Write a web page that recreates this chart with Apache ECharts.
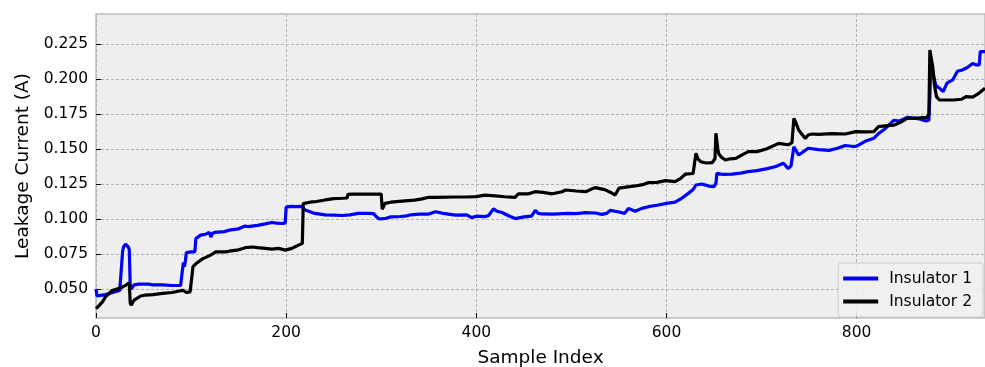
<!DOCTYPE html>
<html>
<head>
<meta charset="utf-8">
<script src="https://cdn.jsdelivr.net/npm/echarts@6/dist/echarts.min.js"></script>
<style>
  html, body { margin: 0; padding: 0; background: #ffffff; }
  #chart { width: 985px; height: 367px; }
</style>
</head>
<body>
<div id="chart"></div>
<script>
// ---- data ----
const seriesNames = ['Insulator 1', 'Insulator 2'];

const sampleIdx1 = [0,1,5,10,15,20,25,27,28,29,31,33,34,35,36,37,40,45,55,60,70,80,89,90,91,92,93,94,95,100,104,105,106,110,115,119,120,121,122,125,135,140,150,157,160,170,178,185,190,195,199,200,205,210,216,220,225,230,241,250,259,267,276,285,292,295,298,305,310,320,325,331,340,350,357,365,378,390,395,400,409,413,418,422,427,435,441,450,458,462,465,469,480,497,505,515,525,532,537,541,550,556,560,567,574,581,590,600,609,616,623,628,631,637,645,650,652,653,660,669,678,686,695,706,715,723,728,731,734,736,739,744,749,760,771,780,788,797,800,809,818,823,830,839,845,853,860,866,873,876,877,878,880,883,885,888,891,895,901,906,911,916,922,926,928,929,930,935];
const current1 = [0.050,0.045,0.0455,0.046,0.047,0.048,0.049,0.0495,0.077,0.080,0.082,0.0815,0.080,0.078,0.052,0.050,0.053,0.0535,0.0535,0.053,0.053,0.0525,0.0525,0.053,0.064,0.069,0.066,0.070,0.076,0.0765,0.0765,0.086,0.087,0.0885,0.089,0.0905,0.0895,0.087,0.0895,0.0905,0.091,0.092,0.093,0.095,0.0945,0.0955,0.0965,0.0975,0.097,0.0968,0.097,0.1085,0.109,0.1088,0.109,0.1065,0.1052,0.104,0.1029,0.1028,0.1025,0.103,0.104,0.104,0.1038,0.1015,0.1000,0.1005,0.1015,0.1018,0.102,0.103,0.1035,0.1035,0.1052,0.104,0.1028,0.103,0.101,0.102,0.1017,0.1025,0.1072,0.1055,0.1046,0.102,0.1003,0.1015,0.102,0.1062,0.104,0.1036,0.1035,0.104,0.1038,0.1045,0.1043,0.1033,0.104,0.1062,0.105,0.104,0.1076,0.1055,0.1076,0.1088,0.1098,0.1112,0.112,0.1148,0.1183,0.121,0.1243,0.125,0.1235,0.1231,0.1255,0.1326,0.1318,0.132,0.1328,0.1338,0.1345,0.136,0.1375,0.1398,0.136,0.138,0.1516,0.149,0.1457,0.148,0.1505,0.1495,0.149,0.1505,0.1525,0.1518,0.152,0.1555,0.1576,0.161,0.1645,0.1705,0.170,0.1726,0.172,0.1715,0.170,0.1705,0.188,0.207,0.205,0.196,0.1943,0.193,0.191,0.197,0.1993,0.2055,0.2064,0.208,0.211,0.210,0.2088,0.210,0.2195,0.2195];

const sampleIdx2 = [0,3,7,10,14,17,22,28,32,35,36,37,40,42,47,52,60,70,80,89,92,95,99,101,102,105,112,120,126,130,136,140,150,157,165,170,178,185,192,199,201,206,212,217,218,225,232,241,250,259,264,265,270,285,300,301,304,310,325,335,343,350,357,378,390,400,409,420,430,441,444,455,462,470,480,490,494,505,515,520,525,535,543,546,550,552,567,575,581,590,599,609,615,620,628,630,631,633,636,642,648,651,652,654,655,658,662,667,673,680,686,695,705,718,728,732,734,736,739,743,746,749,753,760,774,788,799,810,818,823,830,839,846,853,860,866,874,876,877,878,880,882,884,887,895,902,910,915,922,928,935];
const current2 = [0.036,0.038,0.041,0.0445,0.047,0.049,0.050,0.0515,0.053,0.0545,0.040,0.0385,0.042,0.0434,0.045,0.0457,0.046,0.0469,0.0475,0.0488,0.049,0.0475,0.048,0.049,0.066,0.068,0.0715,0.074,0.0765,0.0765,0.0765,0.077,0.078,0.0795,0.080,0.0795,0.079,0.0785,0.079,0.0778,0.0775,0.079,0.081,0.0826,0.111,0.112,0.1125,0.1136,0.1145,0.1148,0.115,0.1176,0.1178,0.1178,0.1178,0.107,0.1112,0.112,0.113,0.1135,0.1144,0.1155,0.1155,0.1157,0.1157,0.116,0.117,0.1165,0.1159,0.1155,0.1179,0.118,0.1195,0.119,0.118,0.1195,0.1207,0.120,0.1195,0.121,0.1224,0.121,0.1184,0.1171,0.122,0.1219,0.1236,0.1245,0.126,0.1262,0.1274,0.1267,0.129,0.1321,0.1325,0.1325,0.1469,0.143,0.1409,0.140,0.1402,0.143,0.1612,0.150,0.1466,0.144,0.1421,0.143,0.1433,0.146,0.1481,0.1481,0.150,0.154,0.153,0.1545,0.1719,0.169,0.1636,0.160,0.1576,0.160,0.1607,0.1605,0.161,0.1607,0.1624,0.1622,0.1624,0.166,0.1665,0.167,0.169,0.1719,0.172,0.1722,0.1726,0.175,0.2207,0.2195,0.2088,0.195,0.1874,0.185,0.185,0.185,0.1855,0.1874,0.187,0.1895,0.1934];

const xTicks = [0, 200, 400, 600, 800];
const yTicks = [0.050, 0.075, 0.100, 0.125, 0.150, 0.175, 0.200, 0.225];

// ---- chart ----
const pairs = (xs, ys) => xs.map((x, i) => [x, ys[i]]);
const FONT = 'DejaVu Sans';

const chart = echarts.init(document.getElementById('chart'), null, { renderer: 'canvas' });
chart.setOption({
  animation: false,
  backgroundColor: '#ffffff',
  textStyle: { fontFamily: FONT },
  grid: {
    left: 96, right: 0, top: 14, bottom: 49,
    outerBoundsMode: 'none', containLabel: false,
    show: true, backgroundColor: '#eeeeee',
    borderColor: '#bcbcbc', borderWidth: 1.5
  },
  xAxis: {
    type: 'value', min: 0, max: 935,
    name: 'Sample Index', nameLocation: 'middle', nameGap: 31,
    nameTextStyle: { fontFamily: FONT, fontSize: 18.5, color: '#000' },
    axisLine: { show: false },
    axisTick: { show: true, inside: true, length: 5, customValues: xTicks, lineStyle: { color: '#000', width: 1 } },
    axisLabel: { customValues: xTicks, margin: 7, fontFamily: FONT, fontSize: 15.5, color: '#000' },
    splitLine: { show: true, lineStyle: { color: '#b2b2b2', width: 1, type: [3, 2] } }
  },
  yAxis: {
    type: 'value', min: 0.0293, max: 0.2464,
    name: 'Leakage Current (A)', nameLocation: 'middle', nameGap: 60,
    nameTextStyle: { fontFamily: FONT, fontSize: 18.5, color: '#000' },
    axisLine: { show: false },
    axisTick: { show: true, inside: true, length: 5, customValues: yTicks, lineStyle: { color: '#000', width: 1 } },
    axisLabel: { customValues: yTicks, margin: 8, fontFamily: FONT, fontSize: 15.5, color: '#000',
                 formatter: v => v.toFixed(3) },
    splitLine: { show: true, lineStyle: { color: '#b2b2b2', width: 1, type: [3, 2] } }
  },
  legend: {
    orient: 'vertical', right: 2, top: 263,
    padding: [7, 11, 7, 5], itemGap: 6,
    itemWidth: 35, itemHeight: 4,
    backgroundColor: 'rgba(240,240,240,0.9)', borderColor: '#cccccc', borderWidth: 1, borderRadius: 3,
    textStyle: { fontFamily: FONT, fontSize: 15.5, color: '#000', lineHeight: 17, padding: [0, 0, 0, 6] },
    data: seriesNames.map(n => ({ name: n, icon: 'rect' })),
    itemStyle: { borderWidth: 0 }
  },
  series: [
    { name: seriesNames[0], type: 'line', data: pairs(sampleIdx1, current1), showSymbol: false, symbol: 'none',
      lineStyle: { color: '#0000ff', width: 3.2 }, itemStyle: { color: '#0000ff' }, z: 2 },
    { name: seriesNames[1], type: 'line', data: pairs(sampleIdx2, current2), showSymbol: false, symbol: 'none',
      lineStyle: { color: '#000000', width: 3.2 }, itemStyle: { color: '#000000' }, z: 3 }
  ]
});
</script>
</body>
</html>
